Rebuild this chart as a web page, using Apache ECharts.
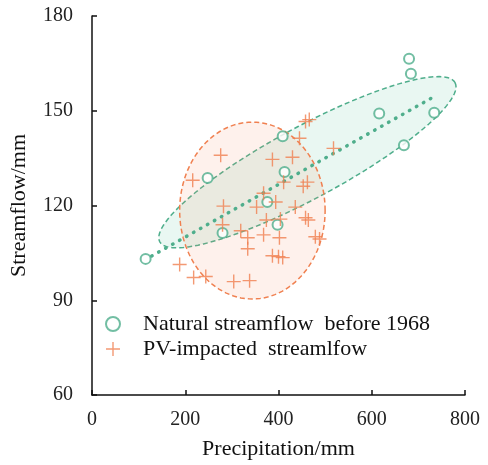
<!DOCTYPE html>
<html>
<head>
<meta charset="utf-8">
<script src="https://cdn.jsdelivr.net/npm/echarts@6/dist/echarts.min.js"></script>
<style>
html,body{margin:0;padding:0;background:#fff;}
#chart{width:488px;height:465px;}
</style>
</head>
<body>
<div id="chart"></div>
<script>
// ==================== DATA ====================
const xTicks=[0,200,400,600,800];
const yTicks=[60,90,120,150,180];

// natural streamflow before 1968 [precip, streamflow]
const natural=[
  [115,103.1],[248,128.7],[280,111.3],[376,121.1],[398,113.9],[409,141.9],
  [413,130.6],[616,149.1],[669,139.1],[680,166.5],[684,161.7],[734,149.4]
];
// PV-impacted streamflow
const impacted=[
  [276,135.9],[387,134.6],[458,146.6],[466,147.2],[445,141.3],[518,138.1],
  [430,135.3],[216,128.0],[411,127.4],[453,126.1],[462,127.4],[368,123.9],
  [353,119.5],[394,121.1],[282,119.8],[374,115.4],[404,115.7],[458,116.1],
  [464,115.4],[280,113.9],[319,112.0],[334,109.8],[368,110.7],[402,109.8],
  [334,106.3],[479,110.1],[488,109.4],[387,104.1],[400,103.8],[409,103.5],
  [188,101.3],[218,97.2],[244,97.5],[304,95.9],[338,96.2],[436,119.5]
];
// fitted trend (endpoints)
const trend=[[128,104],[740,155]];
// ellipses: [cx, cy, ux, uy, vx, vy] in data units
const greenEllipse=[462,133.7,316.6,25.2,36.6,-10.0];
const orangeEllipse=[344,118.4,156,0,0,28.0];

const names=['Natural streamflow  before 1968','PV-impacted  streamlfow'];

// ==================== STYLE ====================
const greenC='#4fae8c', orangeC='#f08050';
const font='"Liberation Serif","Times New Roman",serif';
const plusPath='path://M9,0H11V9H20V11H11V20H9V11H0V9H9Z';

function ellipseItem(fill,stroke){
  return function(params,api){
    const cx=api.value(0),cy=api.value(1),ux=api.value(2),uy=api.value(3),vx=api.value(4),vy=api.value(5);
    const pts=[];
    for(let i=0;i<120;i++){
      const t=i/120*Math.PI*2;
      pts.push(api.coord([cx+ux*Math.cos(t)+vx*Math.sin(t), cy+uy*Math.cos(t)+vy*Math.sin(t)]));
    }
    return {type:'polygon',shape:{points:pts},
      style:{fill:fill,stroke:stroke,lineWidth:1.5,lineDash:[5,3]}};
  };
}

const chart=echarts.init(document.getElementById('chart'));
chart.setOption({
  backgroundColor:'#fff',
  animation:false,
  textStyle:{fontFamily:font},
  grid:{left:91,right:23,top:16,bottom:68},
  legend:{
    data:names,orient:'vertical',left:100,top:308,itemGap:3,
    itemWidth:50,itemHeight:14,
    textStyle:{fontFamily:font,fontSize:22,color:'#111'}
  },
  xAxis:{
    type:'value',min:xTicks[0],max:xTicks[xTicks.length-1],interval:200,
    name:'Precipitation/mm',nameLocation:'middle',nameGap:43,
    nameTextStyle:{fontFamily:font,fontSize:22,color:'#111'},
    axisLine:{lineStyle:{color:'#111',width:1.5}},
    axisTick:{inside:true,length:5,lineStyle:{color:'#111',width:1.5}},
    axisLabel:{fontFamily:font,fontSize:20,color:'#222',margin:15},
    splitLine:{show:false}
  },
  yAxis:{
    type:'value',min:yTicks[0],max:yTicks[yTicks.length-1],interval:30,
    name:'Streamflow/mm',nameLocation:'middle',nameGap:62,
    nameTextStyle:{fontFamily:font,fontSize:22,color:'#111'},
    axisLine:{lineStyle:{color:'#111',width:1.5}},
    axisTick:{inside:true,length:5,lineStyle:{color:'#111',width:1.5}},
    axisLabel:{fontFamily:font,fontSize:20,color:'#222',margin:19},
    splitLine:{show:false}
  },
  series:[
    {type:'custom',data:[greenEllipse],renderItem:ellipseItem('rgba(100,195,160,0.14)',greenC),z:1,silent:true},
    {type:'custom',data:[orangeEllipse],renderItem:ellipseItem('rgba(245,140,100,0.12)',orangeC),z:1,silent:true},
    {type:'line',data:trend,symbol:'none',z:2,
      lineStyle:{color:greenC,width:3.5,type:[0.5,7.5],cap:'round'}},
    {name:names[0],type:'scatter',data:natural,symbol:'emptyCircle',symbolSize:10,z:3,
      itemStyle:{color:greenC,borderColor:greenC,borderWidth:1.6}},
    {name:names[1],type:'scatter',data:impacted,symbol:plusPath,symbolSize:14,symbolKeepAspect:true,z:4,
      itemStyle:{color:orangeC}}
  ]
});
</script>
</body>
</html>
